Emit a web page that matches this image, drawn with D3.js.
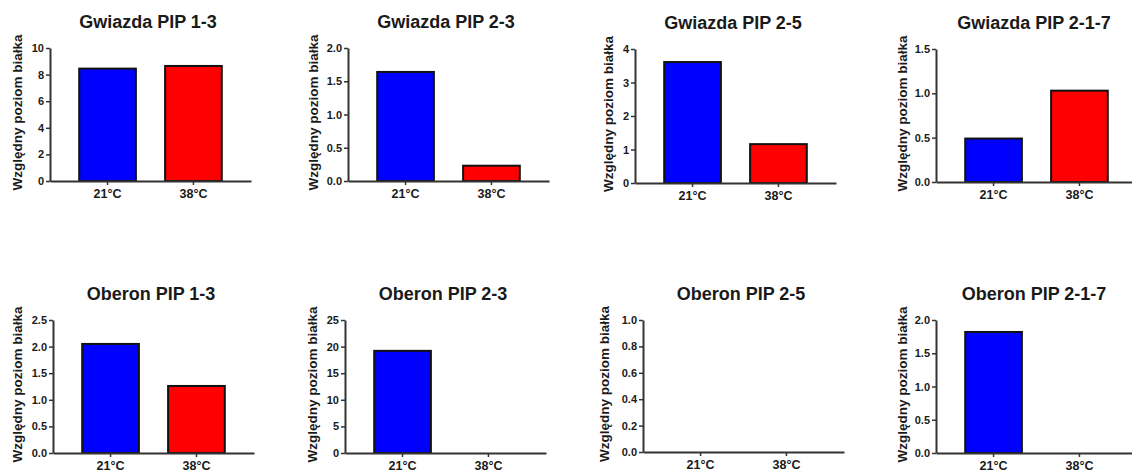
<!DOCTYPE html>
<html>
<head>
<meta charset="utf-8">
<script src="https://cdn.jsdelivr.net/npm/d3@7"></script>
<style>
  html, body { margin: 0; padding: 0; background: #fff; }
  svg { display: block; }
  text { font-family: "Liberation Sans", Arial, sans-serif; font-weight: bold; fill: #1a1a1a; }
</style>
</head>
<body>
<svg id="chart" width="1132" height="472"></svg>
<script>
// ---- data ----
const categories = ["21°C", "38°C"];
const titles = [
  "Gwiazda PIP 1-3", "Gwiazda PIP 2-3", "Gwiazda PIP 2-5", "Gwiazda PIP 2-1-7",
  "Oberon PIP 1-3", "Oberon PIP 2-3", "Oberon PIP 2-5", "Oberon PIP 2-1-7"
];
const values21 = [8.45, 1.64, 3.61, 0.49, 2.05, 19.2, 0, 1.82];
const values38 = [8.65, 0.23, 1.16, 1.03, 1.26, 0, 0, 0];
const yMaxes = [10, 2, 4, 1.5, 2.5, 25, 1, 2];
const yTickValues = [
  [0, 2, 4, 6, 8, 10],
  [0, 0.5, 1, 1.5, 2],
  [0, 1, 2, 3, 4],
  [0, 0.5, 1, 1.5],
  [0, 0.5, 1, 1.5, 2, 2.5],
  [0, 5, 10, 15, 20, 25],
  [0, 0.2, 0.4, 0.6, 0.8, 1],
  [0, 0.5, 1, 1.5, 2]
];
const yTickFormats = ["d", ".1f", "d", ".1f", ".1f", "d", ".1f", ".1f"];
const yLabel = "Względny poziom białka";
const barColors = ["#0000ff", "#ff0000"];

// ---- layout ----
const axisLeftX = [50, 348, 635, 936, 53, 345, 643, 936];
const rowTop = [48, 48, 49, 49, 320, 320, 320, 320];
const rowBottom = [181, 181, 183, 182, 453, 453, 452, 453];
const yLabelX = [18, 314, 609, 903, 18, 313, 605, 903];
const plotW = 201;

const svg = d3.select("#chart");

titles.forEach((title, i) => {
  const x0 = axisLeftX[i];
  const g = svg.append("g");
  const x = d3.scaleBand().domain(categories).range([x0, x0 + plotW])
    .paddingInner(0.34).paddingOuter(0.34);
  const y = d3.scaleLinear().domain([0, yMaxes[i]]).range([rowBottom[i], rowTop[i]]);

  const data = categories.map((c, k) => ({ c, v: k === 0 ? values21[i] : values38[i], k }));

  // bars
  g.selectAll("rect.bar").data(data.filter(d => d.v > 0)).join("rect")
    .attr("class", "bar")
    .attr("x", d => x(d.c))
    .attr("width", x.bandwidth())
    .attr("y", d => y(d.v))
    .attr("height", d => y(0) - y(d.v))
    .attr("fill", d => barColors[d.k])
    .attr("stroke", "#111")
    .attr("stroke-width", 2);

  // y axis
  const yAxis = d3.axisLeft(y).tickValues(yTickValues[i])
    .tickFormat(d3.format(yTickFormats[i])).tickSize(4).tickPadding(2).tickSizeOuter(0);
  const ya = g.append("g").attr("transform", `translate(${x0},0)`).call(yAxis);
  ya.select(".domain").attr("stroke", "#333").attr("stroke-width", 2);
  ya.selectAll(".tick line").attr("stroke", "#333").attr("stroke-width", 1.5);
  ya.selectAll(".tick text").style("font-size", "11px").attr("fill", "#1a1a1a");

  // x axis
  const xAxis = d3.axisBottom(x).tickSize(4).tickPadding(4).tickSizeOuter(0);
  const xa = g.append("g").attr("transform", `translate(0,${rowBottom[i]})`).call(xAxis);
  xa.select(".domain").attr("stroke", "#333").attr("stroke-width", 2);
  xa.selectAll(".tick line").attr("stroke", "#333").attr("stroke-width", 1.5);
  xa.selectAll(".tick text").style("font-size", "12.5px").attr("fill", "#1a1a1a");

  // title
  g.append("text")
    .attr("x", x0 + 98)
    .attr("y", rowTop[i] - 20)
    .attr("text-anchor", "middle")
    .style("font-size", "18px")
    .text(title);

  // y label
  g.append("text")
    .attr("transform", `translate(${yLabelX[i] + 4},${(rowTop[i] + rowBottom[i]) / 2 - 2}) rotate(-90)`)
    .attr("text-anchor", "middle")
    .style("font-size", "13.5px")
    .text(yLabel);
});
</script>
</body>
</html>
